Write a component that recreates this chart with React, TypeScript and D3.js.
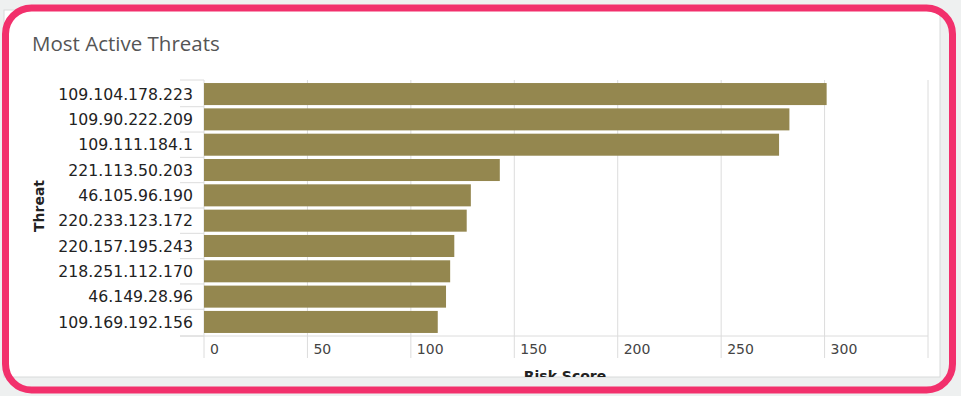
import React from 'react';
import * as d3 from 'd3';

const threats = [
  '109.104.178.223',
  '109.90.222.209',
  '109.111.184.1',
  '221.113.50.203',
  '46.105.96.190',
  '220.233.123.172',
  '220.157.195.243',
  '218.251.112.170',
  '46.149.28.96',
  '109.169.192.156',
];
const riskScores = [301, 283, 278, 143, 129, 127, 121, 119, 117, 113];
const xTicks = [0, 50, 100, 150, 200, 250, 300];
const xDomain = [0, 350];
const title = 'Most Active Threats';
const xTitle = 'Risk Score';
const yTitle = 'Threat';

export default function App() {
  const W = 961;
  const H = 396;
  const x = d3.scaleLinear().domain(xDomain).range([204, 928]);
  const y = d3
    .scaleBand<string>()
    .domain(threats)
    .range([80, 336])
    .paddingInner(0.13)
    .paddingOuter(0.12);
  const bw = y.bandwidth();
  const boundaries = [80]
    .concat(
      threats.slice(1).map((t, i) => ((y(threats[i]) as number) + bw + (y(t) as number)) / 2)
    )
    .concat([336]);
  const gridTicks = xTicks.concat([xDomain[1]]);
  const gridColor = '#dcdcdc';
  const labelFont = 'DejaVu Sans, sans-serif';

  return (
    <svg
      width={W}
      height={H}
      style={{ position: 'absolute', left: 0, top: 0, background: '#eef0f0' }}
    >
      <defs>
        <clipPath id="card">
          <rect x={4} y={10} width={936} height={367} />
        </clipPath>
      </defs>
      <rect x={4} y={10} width={936} height={367} fill="#ffffff" stroke="#d8dada" strokeWidth={1} />
      <g clipPath="url(#card)">
        <text x={32} y={51} fontFamily="Open Sans, sans-serif" fontSize={20.5} fill="#555">
          {title}
        </text>
        {gridTicks.map((t) => (
          <line key={'g' + t} x1={x(t)} x2={x(t)} y1={80} y2={358} stroke={gridColor} strokeWidth={1} />
        ))}
        {boundaries.map((b, i) => (
          <line key={'b' + i} x1={180} x2={204} y1={b} y2={b} stroke={gridColor} strokeWidth={1} />
        ))}
        <line x1={180} x2={x(xDomain[1])} y1={336} y2={336} stroke={gridColor} strokeWidth={1} />
        {threats.map((t, i) => (
          <rect
            key={t}
            x={x(0)}
            y={y(t)}
            width={x(riskScores[i]) - x(0)}
            height={bw}
            fill="#94874f"
          />
        ))}
        {threats.map((t) => (
          <text
            key={'l' + t}
            x={193}
            y={(y(t) as number) + bw / 2}
            dy="0.36em"
            textAnchor="end"
            fontFamily={labelFont}
            fontSize={15.7}
            fill="#222"
          >
            {t}
          </text>
        ))}
        {xTicks.map((t) => (
          <text
            key={'x' + t}
            x={x(t) + 6}
            y={354}
            fontFamily={labelFont}
            fontSize={14}
            fill="#444"
          >
            {t}
          </text>
        ))}
        <text
          x={565}
          y={381}
          textAnchor="middle"
          fontFamily={labelFont}
          fontWeight="bold"
          fontSize={14}
          fill="#222"
        >
          {xTitle}
        </text>
        <text
          transform={`translate(44, 206) rotate(-90)`}
          textAnchor="middle"
          fontFamily={labelFont}
          fontWeight="bold"
          fontSize={14}
          fill="#222"
        >
          {yTitle}
        </text>
      </g>
      <rect x={5.5} y={8} width={947} height={382} rx={26} ry={26} fill="none" stroke="#f2306c" strokeWidth={7} />
    </svg>
  );
}
